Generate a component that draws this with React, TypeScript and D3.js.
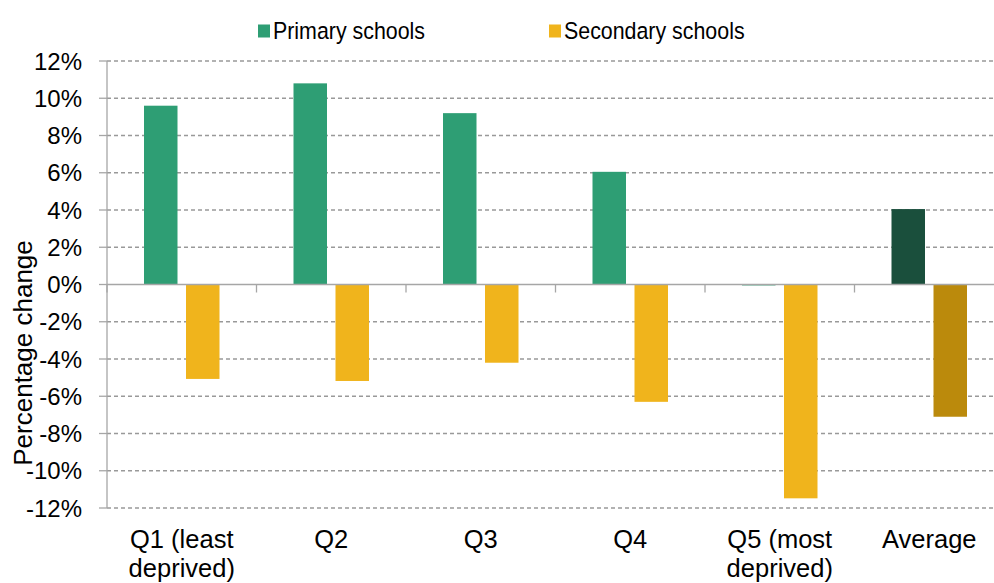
import React, { useEffect, useRef } from "react";
import * as d3 from "d3";

const categories = ["Q1 (least|deprived)", "Q2", "Q3", "Q4", "Q5 (most|deprived)", "Average"];
const primary = [9.6, 10.8, 9.2, 6.05, -0.05, 4.05];
const secondary = [-5.07, -5.18, -4.2, -6.3, -11.48, -7.1];
const yTicks = [-12, -10, -8, -6, -4, -2, 0, 2, 4, 6, 8, 10, 12];
const seriesNames = ["Primary schools", "Secondary schools"];

const App = () => {
  const ref = useRef<SVGSVGElement | null>(null);

  useEffect(() => {
    const svg = d3.select(ref.current!);
    svg.selectAll("*").remove();
    const font = "'Liberation Sans', Arial, sans-serif";

    const left = 107;
    const bandW = 149.5;
    const x = d3.scaleBand().domain(categories).range([left, left + bandW * categories.length]);
    const y = d3.scaleLinear().domain([-12, 12]).range([508, 61]);

    // gridlines
    svg.append("g").selectAll("line").data(yTicks.filter(t => t !== 0)).join("line")
      .attr("x1", left).attr("x2", 994)
      .attr("y1", d => y(d)).attr("y2", d => y(d))
      .attr("stroke", "#999").attr("stroke-width", 1.3).attr("stroke-dasharray", "4,3");

    // y axis
    svg.append("line").attr("x1", left).attr("x2", left).attr("y1", y(12)).attr("y2", y(-12))
      .attr("stroke", "#a6a6a6").attr("stroke-width", 1.3);
    svg.append("g").selectAll("line").data(yTicks).join("line")
      .attr("x1", left - 8).attr("x2", left).attr("y1", d => y(d)).attr("y2", d => y(d))
      .attr("stroke", "#a6a6a6").attr("stroke-width", 1.3);
    svg.append("g").selectAll("text").data(yTicks).join("text")
      .attr("x", 82).attr("y", d => y(d)).attr("dy", "0.36em")
      .attr("text-anchor", "end").attr("font-family", font).attr("font-size", 24).attr("fill", "#000")
      .text(d => `${d}%`);

    const bw = 33.5;
    const off = 21;
    const bars = svg.append("g");
    categories.forEach((c, i) => {
      const cx = x(c)! + x.bandwidth() / 2;
      const avg = c === "Average";
      const p = primary[i], s = secondary[i];
      bars.append("rect")
        .attr("x", cx - off - bw / 2).attr("width", bw)
        .attr("y", y(Math.max(0, p))).attr("height", Math.abs(y(p) - y(0)))
        .attr("fill", avg ? "#1a4f3c" : "#2e9e74");
      bars.append("rect")
        .attr("x", cx + off - bw / 2).attr("width", bw)
        .attr("y", y(Math.max(0, s))).attr("height", Math.abs(y(s) - y(0)))
        .attr("fill", avg ? "#bb8a0c" : "#f0b41c");
    });

    // x axis at zero
    svg.append("line").attr("x1", left).attr("x2", 994).attr("y1", y(0)).attr("y2", y(0))
      .attr("stroke", "#a6a6a6").attr("stroke-width", 1.3);
    svg.append("g").selectAll("line").data(d3.range(categories.length + 1)).join("line")
      .attr("x1", d => left + d * bandW).attr("x2", d => left + d * bandW)
      .attr("y1", y(0)).attr("y2", y(0) + 8)
      .attr("stroke", "#a6a6a6").attr("stroke-width", 1.3);

    // category labels
    categories.forEach(c => {
      const cx = x(c)! + x.bandwidth() / 2;
      const t = svg.append("text").attr("text-anchor", "middle").attr("font-family", font)
        .attr("font-size", 25.5).attr("fill", "#000");
      c.split("|").forEach((line, j) => {
        t.append("tspan").attr("x", cx).attr("y", 548 + j * 29).text(line);
      });
    });

    // y axis title
    svg.append("text").attr("transform", "translate(32,353) rotate(-90)")
      .attr("text-anchor", "middle").attr("font-family", font).attr("font-size", 26).attr("fill", "#000")
      .text("Percentage change");

    // legend
    const legendX = [258, 549];
    const colors = ["#2e9e74", "#f0b41c"];
    seriesNames.forEach((n, i) => {
      svg.append("rect").attr("x", legendX[i]).attr("y", 24.5).attr("width", 12).attr("height", 13).attr("fill", colors[i]);
      svg.append("text").attr("transform", `translate(${legendX[i] + 15},38.5) scale(0.91,1)`)
        .attr("font-family", font).attr("font-size", 23.5).attr("fill", "#000").text(n);
    });
  }, []);

  return (
    <svg ref={ref} width={994} height={583}
      style={{ position: "absolute", left: 0, top: 0, background: "#fff" }} />
  );
};

export default App;
